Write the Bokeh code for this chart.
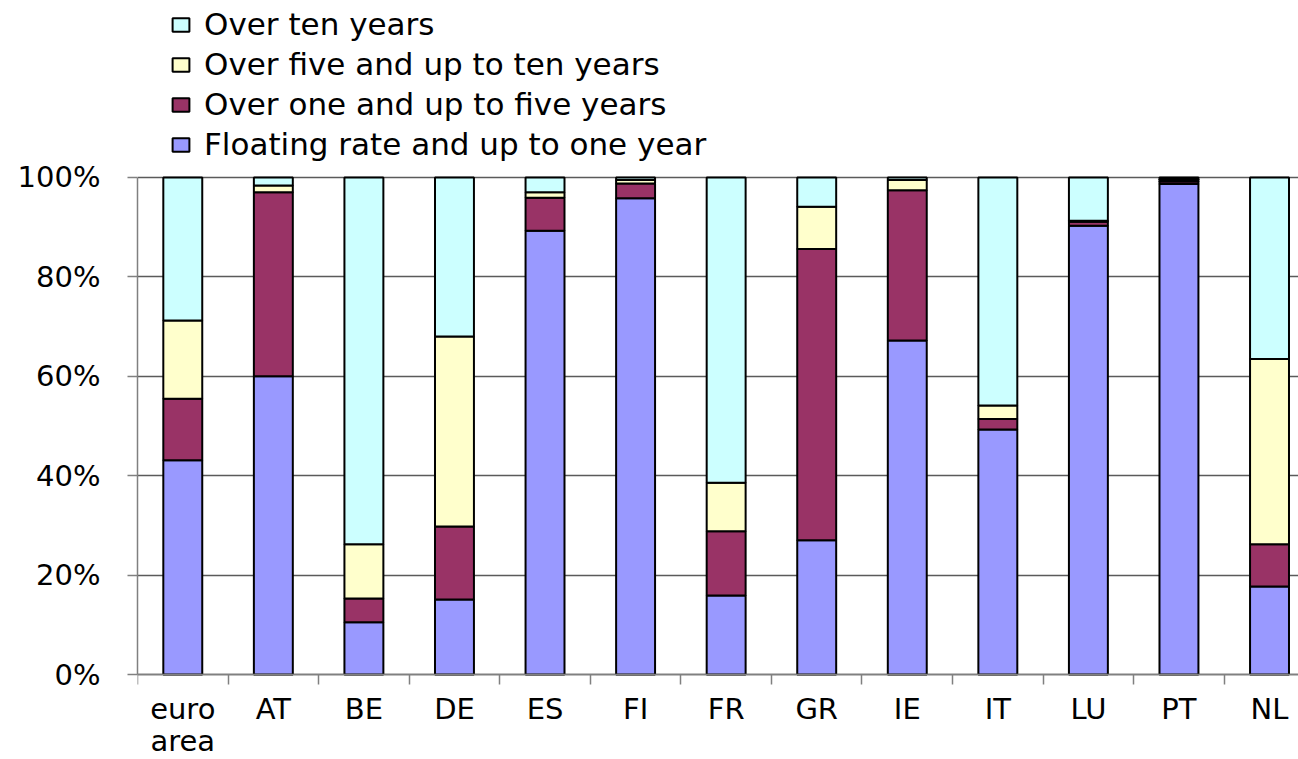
from bokeh.plotting import figure
from bokeh.models import Range1d, FixedTicker, Legend, LegendItem, ColumnDataSource
from bokeh.embed import file_html
from bokeh.resources import INLINE

categories = ["euro\narea", "AT", "BE", "DE", "ES", "FI", "FR", "GR", "IE", "IT", "LU", "PT", "NL"]
series_names = ["Floating rate and up to one year", "Over one and up to five years",
                "Over five and up to ten years", "Over ten years"]
floating = [43.1, 60.0, 10.5, 15.1, 89.3, 95.8, 15.9, 27.0, 67.2, 49.3, 90.3, 98.7, 17.7]
one_five = [12.4, 37.0, 4.8, 14.7, 6.6, 3.0, 12.9, 58.6, 30.2, 2.1, 0.8, 0.5, 8.5]
five_ten = [15.7, 1.4, 10.9, 38.2, 1.1, 0.7, 9.8, 8.5, 2.1, 2.7, 0.2, 0.4, 37.3]
over_ten = [28.8, 1.6, 73.8, 32.0, 3.0, 0.5, 61.4, 5.9, 0.5, 45.9, 8.7, 0.4, 36.5]
y_ticks = [0, 20, 40, 60, 80, 100]
y_tick_labels = ["0%", "20%", "40%", "60%", "80%", "100%"]
colors = ["#9999FF", "#993366", "#FFFFCC", "#CCFFFF"]

xs = list(range(len(categories)))
source = ColumnDataSource(dict(x=xs, s0=floating, s1=one_five, s2=five_ten, s3=over_ten))

FONT = "DejaVu Sans"

# frame spans the whole figure height; value axis 0..100 occupies the middle band
p = figure(width=1298, height=759, output_backend="svg", toolbar_location=None,
           x_range=Range1d(-0.5, 12.32), y_range=Range1d(-17.1, 135.6),
           min_border_left=137, min_border_right=0, min_border_top=0, min_border_bottom=0)
p.outline_line_color = None

p.ygrid.ticker = FixedTicker(ticks=y_ticks)
p.ygrid.grid_line_color = "#5a5a5a"
p.ygrid.grid_line_width = 1.5
p.xgrid.visible = False

rs = p.vbar_stack(["s0", "s1", "s2", "s3"], x="x", width=0.43, source=source,
                  fill_color=colors, line_color="black", line_width=2)

# y axis
p.yaxis.bounds = (0, 100)
p.yaxis.ticker = FixedTicker(ticks=y_ticks)
p.yaxis.major_label_overrides = {t: l for t, l in zip(y_ticks, y_tick_labels)}
p.yaxis.minor_tick_line_color = None
p.yaxis.major_tick_out = 10
p.yaxis.major_tick_in = 0
p.yaxis.major_label_standoff = 27
p.yaxis.axis_line_color = "#808080"
p.yaxis.axis_line_width = 1.5
p.yaxis.major_tick_line_color = "#808080"
p.yaxis.major_tick_line_width = 1.5
p.yaxis.major_label_text_font = FONT
p.yaxis.major_label_text_font_size = "29px"
p.yaxis.major_label_text_color = "black"

# x axis, drawn at value 0 inside the frame
p.xaxis.fixed_location = 0
p.xaxis.ticker = FixedTicker(ticks=xs, minor_ticks=[x - 0.5 for x in xs] + [xs[-1] + 0.5])
p.xaxis.major_label_overrides = {x: c for x, c in zip(xs, categories)}
p.xaxis.major_tick_out = 0
p.xaxis.major_tick_in = 0
p.xaxis.major_tick_line_color = None
p.xaxis.minor_tick_out = 10
p.xaxis.minor_tick_in = 0
p.xaxis.minor_tick_line_color = "#808080"
p.xaxis.minor_tick_line_width = 1.5
p.xaxis.axis_line_color = "#808080"
p.xaxis.axis_line_width = 1.5
p.xaxis.major_label_standoff = 7
p.xaxis.major_label_text_font = FONT
p.xaxis.major_label_text_font_size = "29px"
p.xaxis.major_label_text_line_height = 0.95
p.xaxis.major_label_text_color = "black"

items = [LegendItem(label=series_names[i], renderers=[rs[i]]) for i in [3, 2, 1, 0]]
legend = Legend(items=items, location=(28, 592), orientation="vertical",
                label_text_font=FONT, label_text_font_size="31px", label_text_color="black",
                glyph_width=21, glyph_height=17, label_standoff=13,
                label_height=30, spacing=4, padding=5, margin=0,
                border_line_alpha=0, background_fill_alpha=0)
p.add_layout(legend)

open("out.html", "w").write(file_html(p, INLINE))
